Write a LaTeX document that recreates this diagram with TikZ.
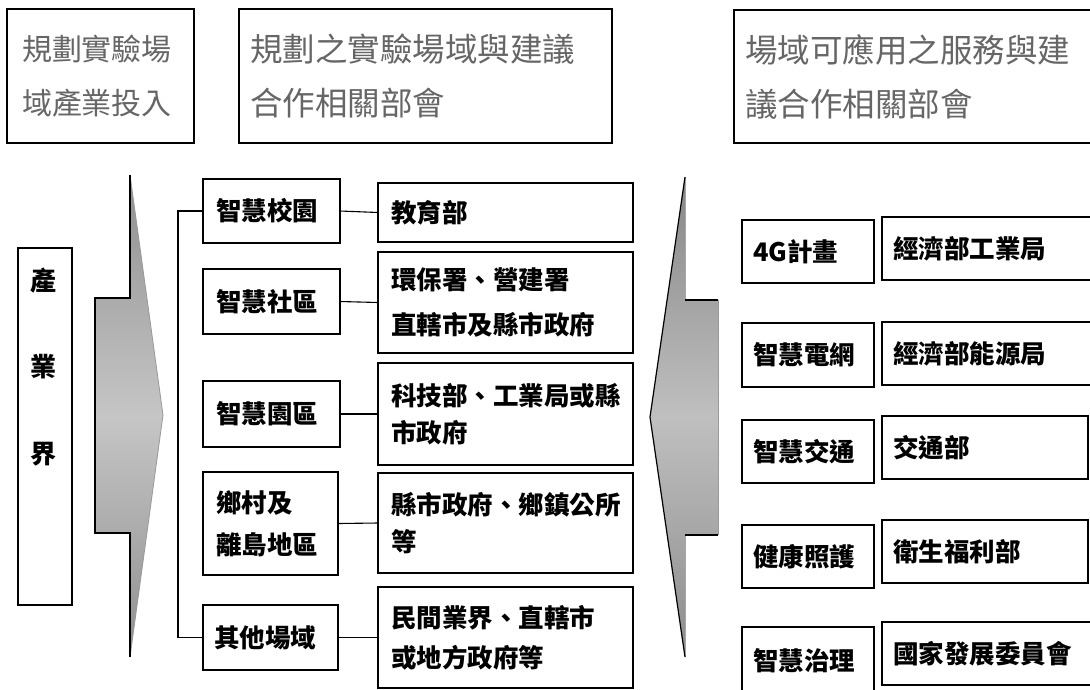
\documentclass[tikz,border=0pt]{standalone}
\usepackage{fontspec}
\newfontfamily\cjk{Noto Sans CJK TC}
\begin{document}
\begin{tikzpicture}[x=1pt,y=-1pt,
  box/.style={draw=black,line width=1.1pt,rectangle,inner ysep=0pt,outer sep=0pt,align=left},
  hdr/.style={box,text=black!60,font=\cjk\fontsize{32.5}{54}\selectfont,inner xsep=11pt},
  body/.style={box,font=\cjk\bfseries\fontsize{25.5}{#1}\selectfont},
  body/.default=40,
  link/.style={draw=black,line width=1.1pt},
  arrowedge/.style={draw=black,line width=1.2pt,line join=miter}
]
\useasboundingbox (0,0) rectangle (1090,689);
\clip (0,0) rectangle (1090,689);
\fill[white] (0,0) rectangle (1090,689);

% header boxes
\node[hdr,font=\cjk\fontsize{30}{54}\selectfont,inner xsep=15pt,text width=157pt,minimum height=134pt] (h1) at (100.5,76) {規劃實驗場\\域產業投入};
\node[hdr,text width=351pt,minimum height=134pt] (h2) at (425.5,76) {規劃之實驗場域與建議\\合作相關部會};
\node[hdr,text width=344pt,minimum height=133pt] (h3) at (917,76.5) {場域可應用之服務與建\\議合作相關部會};

% industry box
\node[box,minimum width=54pt,minimum height=357pt,inner sep=0pt] (ind) at (45,426.5) {};
\node[align=center,inner sep=0pt,font=\cjk\bfseries\fontsize{26}{86.5}\selectfont] (indtext) at (43,367) {產\\業\\界};

% left arrow
\shade[top color=gray!88,bottom color=gray!88,middle color=gray!45]
  (130,175) -- (130,298) -- (95,298) -- (95,533) -- (130,533) -- (130,657) -- (163,415) -- cycle;
\draw[gray!80,line width=0.8pt] (130,657) -- (163,415) -- (130,175);
\draw[arrowedge] (130,175) -- (130,298) -- (95,298) -- (95,533) -- (130,533) -- (130,657);

% right arrow
\shade[top color=gray!95,bottom color=gray!90,middle color=gray!50]
  (685,177) -- (685,300) -- (718,300) -- (718,535) -- (685,535) -- (685,657) -- (650,417) -- cycle;
\draw[gray!80,line width=0.8pt] (718,300) -- (718,535);
\draw[gray!70,line width=0.6pt] (685,177) -- (685,300) (685,535) -- (685,657);
\draw[arrowedge] (685,177) -- (650,417) -- (685,657);
\draw[arrowedge] (685,300) -- (718,300);
\draw[arrowedge] (685,535) -- (718,535);

% middle column: domains
\node[body,inner xsep=13pt,text width=111pt,minimum height=64pt] (m1) at (271.5,211) {智慧校園};
\node[body,inner xsep=13pt,text width=111pt,minimum height=65pt] (m2) at (271.5,301.5) {智慧社區};
\node[body,inner xsep=13pt,text width=111pt,minimum height=66pt] (m3) at (271.5,414) {智慧園區};
\node[body=42,inner xsep=13pt,text width=109pt,minimum height=103pt] (m4) at (270.5,523.5) {鄉村及\\離島地區};
\node[body,inner xsep=11pt,text width=113pt,minimum height=65pt] (m5) at (270.5,637.5) {其他場域};

% ministries
\node[body,inner xsep=13pt,text width=229pt,minimum height=59pt] (r1) at (505.5,212.5) {教育部};
\node[body=45,inner xsep=13pt,text width=229pt,minimum height=101pt] (r2) at (505.5,302.5) {環保署、營建署\\直轄市及縣市政府};
\node[body=37,inner xsep=13pt,text width=229pt,minimum height=102pt] (r3) at (505.5,414) {科技部、工業局或縣\\市政府};
\node[body=37,inner xsep=13pt,text width=229pt,minimum height=100pt] (r4) at (505.5,523) {縣市政府、鄉鎮公所\\等};
\node[body=40,inner xsep=13pt,text width=229pt,minimum height=101pt] (r5) at (505.5,637.5) {民間業界、直轄市\\或地方政府等};

% connectors
\draw[link] (m1.west) -- ++(-25,0) |- (m5.west);
\draw[link] (m1.east) -- (r1.west);
\draw[link] (m2.east) -- (r2.west);
\draw[link] (m3.east) -- (r3.west);
\draw[link] (m4.east) -- (r4.west);
\draw[link] (m5.east) -- (r5.west);

% right services
\node[body,inner xsep=11pt,text width=110pt,minimum height=63pt] (s1) at (808,251.5) {4G計畫};
\node[body,inner xsep=11pt,text width=110pt,minimum height=64pt] (s2) at (808,355) {智慧電網};
\node[body,inner xsep=11pt,text width=110pt,minimum height=63pt] (s3) at (808,451.5) {智慧交通};
\node[body,inner xsep=11pt,text width=110pt,minimum height=63pt] (s4) at (808,556.5) {健康照護};
\node[body,inner xsep=11pt,text width=110pt,minimum height=68pt] (s5) at (808,661) {智慧治理};

\node[body,inner xsep=11pt,text width=196pt,minimum height=63pt] (t1) at (991,248.5) {經濟部工業局};
\node[body,inner xsep=11pt,text width=196pt,minimum height=63pt] (t2) at (991,353.5) {經濟部能源局};
\node[body,inner xsep=11pt,text width=184pt,minimum height=63pt] (t3) at (985,447.5) {交通部};
\node[body,inner xsep=11pt,text width=184pt,minimum height=63pt] (t4) at (985,551.5) {衛生福利部};
\node[body,inner xsep=11pt,text width=196pt,minimum height=63pt] (t5) at (991,653.5) {國家發展委員會};
\end{tikzpicture}
\end{document}
